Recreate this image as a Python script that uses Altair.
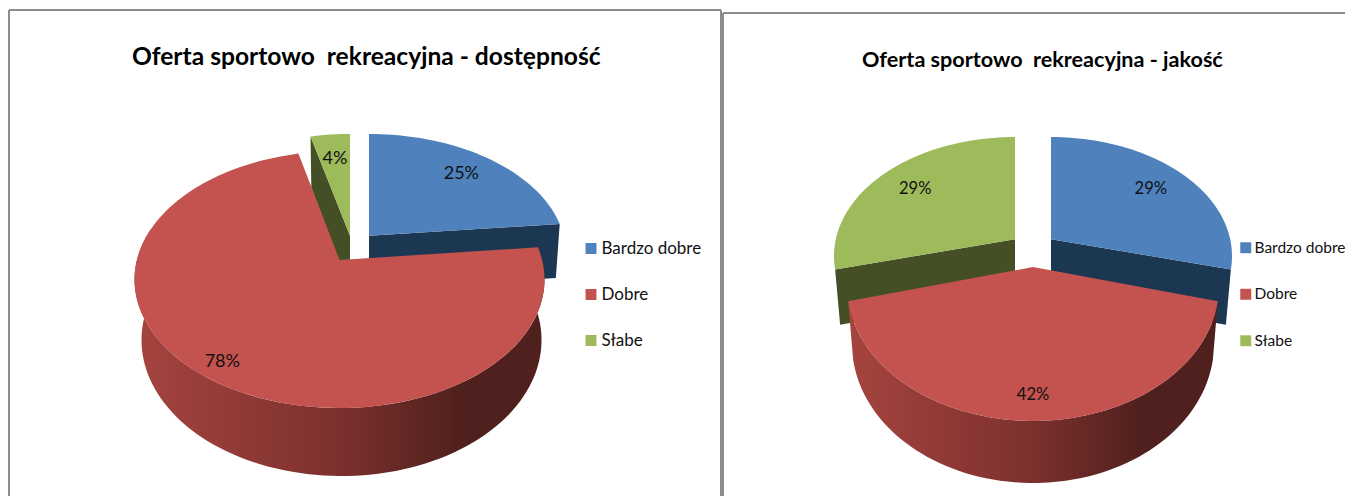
import math
import altair as alt

CATS = ["Bardzo dobre", "Dobre", "Słabe"]
COLORS = ["#4f81bd", "#c4524f", "#9dbb5a"]
WALLS = ["#1b3751", "#000000", "#454f26"]
VALUES_A = [25, 78, 4]
VALUES_B = [29, 42, 29]
TITLE_A = "Oferta sportowo\u00a0 rekreacyjna - dostępność"
TITLE_B = "Oferta sportowo\u00a0 rekreacyjna - jakość"

FONT = "Lato"
OX, OY = 8, 8
W, H = 1337, 488

# geometry of each exploded slice: top ellipse, bottom ellipse (cx, cy, rx, ry)
GEOM_A = {
    "k": 0.152,
    "top": [(369, 254, 197, 120), (339.5, 279.5, 205, 128.5), (350, 254, 197, 120)],
    "bot": [(369, 309, 193, 124), (341.5, 340, 200, 136), (350, 309, 193, 124)],
    "label_r": [0.77, 0.89, 0.73],
    "legend_x": 582.5, "legend_font": 17, "legend_offset": 2, "label_font": 18,
    "title_x": 132, "title_y": 65, "title_font": 24.6,
}
GEOM_B = {
    "k": 0.14,
    "top": [(1051, 256, 181, 119), (1033, 286, 186, 135), (1015, 256, 181, 119)],
    "bot": [(1051, 311, 176, 123), (1033, 344, 181, 139), (1015, 311, 176, 123)],
    "label_r": [0.75, 0.85, 0.75],
    "legend_x": 1238, "legend_font": 15.5, "legend_offset": 1, "label_font": 16.5,
    "title_x": 862, "title_y": 67, "title_font": 21.6,
}


def disc(angle, k):
    """clockwise-from-top angle on the unit disc, projected in perspective"""
    a = math.radians(angle)
    u, v = math.sin(a), -math.cos(a)
    return u * math.sqrt(1 - k * k) / (1 - k * v), (v - k) / (1 - k * v)


def rim(angle, e, k):
    x, y = disc(angle, k)
    return [e[0] + e[2] * x, e[1] + e[3] * y]


def apex(e, k):
    return [e[0], e[1] - e[3] * k]


def sweep(a0, a1):
    n = max(2, int(abs(a1 - a0) / 2))
    return [a0 + (a1 - a0) * i / n for i in range(n + 1)]


def feature(ring, cat=""):
    ring = ring + [ring[0]]
    return {"type": "Feature", "properties": {"cat": cat},
            "geometry": {"type": "Polygon", "coordinates": [ring]}}


PROJ = dict(type="identity", scale=1, translate=[-OX, -OY])


def shape(features, **kw):
    return alt.Chart(alt.Data(values=features)).mark_geoshape(strokeWidth=0, **kw).project(**PROJ)


def pie(values, g):
    total = sum(values)
    k = g["k"]
    edges = [0]
    for val in values:
        edges.append(edges[-1] + 360 * val / total)
    layers = []
    # radial faces of the blue and green slices
    for i, ang in ((0, edges[1]), (2, edges[2])):
        t, b = g["top"][i], g["bot"][i]
        layers.append(shape([feature([apex(t, k), rim(ang, t, k), rim(ang, b, k), apex(b, k)])],
                            fill=WALLS[i]))
    # outer wall of the red slice
    t, b = g["top"][1], g["bot"][1]
    angs = sweep(edges[1], min(edges[2], 285))
    wall = [rim(a, t, k) for a in angs] + [rim(a, b, k) for a in reversed(angs)]
    grad = alt.LinearGradient(
        gradient="linear", x1=0, x2=1, y1=0, y2=0,
        stops=[alt.GradientStop(color="#a5443f", offset=0),
               alt.GradientStop(color="#7c302e", offset=0.5),
               alt.GradientStop(color="#4f201d", offset=0.8),
               alt.GradientStop(color="#4f201d", offset=1)])
    layers.append(shape([feature(wall)], fill=grad))
    # top faces, drawn through the colour scale
    tops = []
    for i, cat in enumerate(CATS):
        e = g["top"][i]
        tops.append(feature([apex(e, k)] + [rim(a, e, k) for a in sweep(edges[i], edges[i + 1])], cat))
    legend = alt.Legend(title=None, orient="none", legendX=g["legend_x"] - OX, legendY=240 - OY,
                        symbolType="square", symbolSize=120, symbolStrokeWidth=0,
                        labelFont=FONT, labelFontSize=g["legend_font"], labelColor="#111111",
                        labelOffset=g["legend_offset"],
                        rowPadding=45 - g["legend_font"], symbolOpacity=1, padding=0)
    layers.append(shape(tops).encode(
        color=alt.Color("properties.cat:N", legend=legend,
                        scale=alt.Scale(domain=CATS, range=COLORS))))
    # percentage labels
    rows = []
    for i, val in enumerate(values):
        e = g["top"][i]
        mid = (edges[i] + edges[i + 1]) / 2
        a = math.radians(mid)
        f = g["label_r"][i]
        u, v = f * math.sin(a), -f * math.cos(a)
        x = u * math.sqrt(1 - k * k) / (1 - k * v)
        y = (v - k) / (1 - k * v)
        rows.append({"px": e[0] + e[2] * x - OX, "py": e[1] + e[3] * y - OY, "t": f"{val}%"})
    layers.append(alt.Chart(alt.Data(values=rows)).mark_text(
        font=FONT, fontSize=g["label_font"], color="#111111", align="center", baseline="middle"
    ).encode(x=alt.X("px:Q", scale=None, axis=None), y=alt.Y("py:Q", scale=None, axis=None),
             text="t:N"))
    return layers


def title(text, g):
    return alt.Chart(alt.Data(values=[{"t": text}])).mark_text(
        font=FONT, fontSize=g["title_font"], color="#000000", align="left", baseline="alphabetic",
        fontWeight="bold"
    ).encode(x=alt.value(g["title_x"] - OX), y=alt.value(g["title_y"] - OY), text="t:N")


def frame(x0, x1, y0, y1):
    return alt.Chart(alt.Data(values=[{"a": 1}])).mark_rule(color="#8c8c8c", strokeWidth=2).encode(
        x=alt.value(x0 - OX), x2=alt.value(x1 - OX), y=alt.value(y0 - OY), y2=alt.value(y1 - OY))


layers = [
    frame(9, 721, 10, 10), frame(9, 9, 10, 504), frame(721, 721, 10, 504),
    frame(723, 1353, 13, 13), frame(723, 723, 13, 504),
]
layers += pie(VALUES_A, GEOM_A) + [title(TITLE_A, GEOM_A)]
layers += pie(VALUES_B, GEOM_B) + [title(TITLE_B, GEOM_B)]

chart = alt.layer(*layers).resolve_scale(color="independent").properties(
    width=W, height=H, padding=0, background="white",
    autosize=alt.AutoSizeParams(type="none"),
).configure_view(stroke=None)

chart.save("out.html", embed_options={"renderer": "svg", "actions": False})
